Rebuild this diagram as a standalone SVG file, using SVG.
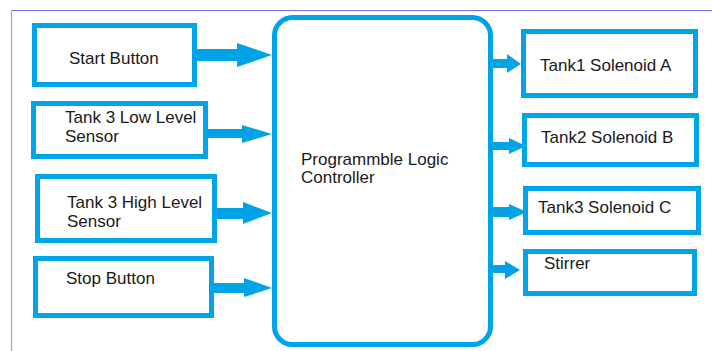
<svg xmlns="http://www.w3.org/2000/svg" width="712" height="351" viewBox="0 0 712 351">
<style>
.box{fill:#fff;stroke:#00A3E6;stroke-width:5}
.t{font-family:"Liberation Sans",Arial,sans-serif;font-size:17px;fill:#1a1a1a}
.arr{fill:#00A3E6}
</style>
<rect width="712" height="351" fill="#fff"/>
<g id="frame">
<line x1="11" y1="10.5" x2="712" y2="10.5" stroke="#6a70e0" stroke-width="1.2"/>
<line x1="11.5" y1="10" x2="11.5" y2="351" stroke="#a0a0ee" stroke-width="1.2"/>
</g>
<g id="connectors">
<path class="arr" d="M197,49 H237 V43 L272,55 L237,67 V61 H197 Z"/>
<path class="arr" d="M208,129 H242 V125 L272,134 L242,143 V138 H208 Z"/>
<path class="arr" d="M217,208 H243 V202 L272,213 L243,224 V219 H217 Z"/>
<path class="arr" d="M214,283 H244 V278 L272,288 L244,297 V293 H214 Z"/>
<path class="arr" d="M493,59 H507 V54 L521,64 L507,73 V68 H493 Z"/>
<path class="arr" d="M493,142 H509 V138 L526,146 L509,154 V150 H493 Z"/>
<path class="arr" d="M493,207 H509 V204 L527,212 L509,220 V217 H493 Z"/>
<path class="arr" d="M493,265 H505 V261 L520,270 L505,279 V273 H493 Z"/>
</g>
<g id="start">
<rect class="box" x="34.5" y="25.5" width="160" height="59"/>
<text class="t" x="69" y="64">Start Button</text>
</g>
<g id="low">
<rect class="box" x="33.5" y="103.5" width="172" height="53"/>
<text class="t" x="65" y="123">Tank 3 Low Level</text>
<text class="t" x="65" y="142">Sensor</text>
</g>
<g id="high">
<rect class="box" x="37.5" y="176.5" width="177" height="64"/>
<text class="t" x="67" y="208">Tank 3 High Level</text>
<text class="t" x="67" y="227">Sensor</text>
</g>
<g id="stop">
<rect class="box" x="35.5" y="258.5" width="176" height="57"/>
<text class="t" x="66" y="284">Stop Button</text>
</g>
<g id="plc">
<rect class="box" x="274.5" y="17.5" width="216" height="327" rx="18"/>
<text class="t" x="301" y="165">Programmble Logic</text>
<text class="t" x="301" y="183">Controller</text>
</g>
<g id="tank1">
<rect class="box" x="523.5" y="31.5" width="172" height="64"/>
<text class="t" x="540" y="71">Tank1 Solenoid A</text>
</g>
<g id="tank2">
<rect class="box" x="524.5" y="115.5" width="172" height="49"/>
<text class="t" x="541" y="143">Tank2 Solenoid B</text>
</g>
<g id="tank3">
<rect class="box" x="525.5" y="188.5" width="173" height="44"/>
<text class="t" x="538" y="213">Tank3 Solenoid C</text>
</g>
<g id="stirrer">
<rect class="box" x="525.5" y="251.5" width="169" height="42"/>
<text class="t" x="544" y="269">Stirrer</text>
</g>
</svg>
